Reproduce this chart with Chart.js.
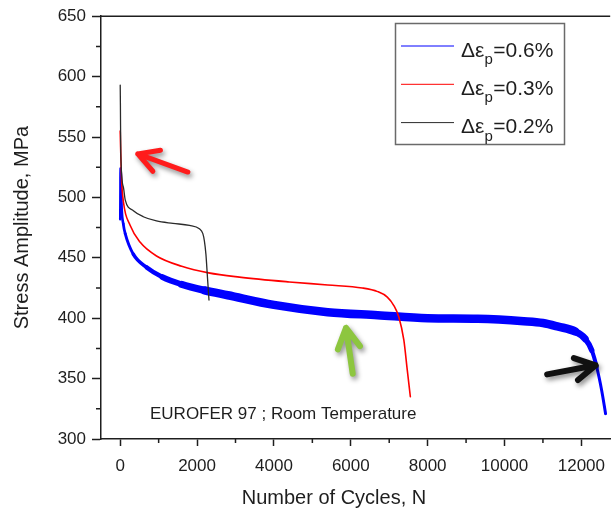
<!DOCTYPE html>
<html>
<head>
<meta charset="utf-8">
<script src="https://cdn.jsdelivr.net/npm/chart.js@4.4.1/dist/chart.umd.min.js"></script>
<style>
  html, body { margin: 0; padding: 0; background: #fff; overflow: hidden; }
  #wrap { width: 615px; height: 512px; }
</style>
</head>
<body>
<div id="wrap"><canvas id="fatigue" width="615" height="512"></canvas></div>
<script>
// Cyclic softening curves, EUROFER 97 at room temperature
const cycles06 = [0, 10, 40, 80, 130, 340, 690, 1100, 1600, 2200, 2800, 4000, 5400, 6700, 8000, 9300, 10500, 11000, 11400, 11840, 12100, 12270, 12400, 12530, 12630];
const stress06 = [482, 524, 490, 478, 470, 453, 442, 434, 428, 423, 419, 411, 405, 402.5, 400, 399.5, 397.5, 396, 393, 389, 383, 373.5, 359.5, 340, 321];

const cycles03 = [0, 30, 85, 257, 515, 944, 1600, 2300, 3100, 4400, 5400, 6300, 6700, 6950, 7120, 7250, 7380, 7470, 7550];
const stress03 = [555, 518, 496, 477, 463, 451.5, 443, 437.5, 434, 430, 427.5, 425, 422, 417.5, 410.5, 401, 382, 357, 335];

const cycles02 = [0, 5, 15, 85, 130, 343, 600, 944, 1372, 1802, 2060, 2150, 2190, 2230, 2270, 2310];
const stress02 = [593, 577, 536, 508, 498, 489, 484, 480.5, 478.5, 476.8, 474, 470, 464, 453, 434, 415];

const strainRanges = ['0.6', '0.3', '0.2'];
const seriesColors = ['#0000ff', '#ff0000', '#2a2a2a'];

const xTicks = [0, 2000, 4000, 6000, 8000, 10000, 12000];
const xMinor = [1000, 3000, 5000, 7000, 9000, 11000];
const yTicks = [300, 350, 400, 450, 500, 550, 600, 650];
const yMinor = [325, 375, 425, 475, 525, 575, 625];

// arrows: tail -> tip, in (cycles, MPa)
const arrowTails = [[1760, 521], [6050, 354], [11110, 353.5]];
const arrowTips = [[456, 536], [5876, 392], [12373, 361]];
const arrowColors = ['#ff1c1c', '#8dc63f', '#111111'];
const arrowWidths = [5, 6, 6];

const FONT = '"Liberation Sans", Arial, Helvetica, sans-serif';
const INK = '#1e1e1e';

function points(xs, ys) {
  return xs.map((x, i) => ({ x: x, y: ys[i] }));
}

// noise band of the 0.6% test widens early on, narrows through the final drop
function bandWidth(n) {
  if (n >= 12400) return 3;
  if (n >= 12270) return 4;
  if (n >= 12100) return 5.5;
  if (n >= 11840) return 7;
  return 2.5 + 6 * Math.min(1, n / 2000);
}

const frameAndMinorTicks = {
  id: 'frameAndMinorTicks',
  afterDraw(chart) {
    const { ctx, chartArea, scales } = chart;
    ctx.save();
    ctx.strokeStyle = INK;
    ctx.lineWidth = 1.5;
    ctx.beginPath();
    ctx.moveTo(chartArea.left, chartArea.top);
    ctx.lineTo(chartArea.right, chartArea.top);
    xMinor.forEach(v => {
      const px = scales.x.getPixelForValue(v);
      ctx.moveTo(px, chartArea.bottom);
      ctx.lineTo(px, chartArea.bottom + 4);
    });
    yMinor.forEach(v => {
      const py = scales.y.getPixelForValue(v);
      ctx.moveTo(chartArea.left, py);
      ctx.lineTo(chartArea.left - 5, py);
    });
    ctx.stroke();
    ctx.restore();
  }
};

const arrowMarks = {
  id: 'arrowMarks',
  afterDraw(chart) {
    const { ctx, scales } = chart;
    arrowTails.forEach((tail, i) => {
      const x0 = scales.x.getPixelForValue(tail[0]);
      const y0 = scales.y.getPixelForValue(tail[1]);
      const x1 = scales.x.getPixelForValue(arrowTips[i][0]);
      const y1 = scales.y.getPixelForValue(arrowTips[i][1]);
      const ang = Math.atan2(y0 - y1, x0 - x1);
      const wing = 23, spread = Math.PI / 6.2;
      ctx.save();
      ctx.shadowColor = 'rgba(0,0,0,0.45)';
      ctx.shadowBlur = 5;
      ctx.shadowOffsetX = 2;
      ctx.shadowOffsetY = 3;
      ctx.strokeStyle = arrowColors[i];
      ctx.lineWidth = arrowWidths[i];
      ctx.lineCap = 'round';
      ctx.lineJoin = 'round';
      ctx.beginPath();
      ctx.moveTo(x0, y0);
      ctx.lineTo(x1, y1);
      ctx.moveTo(x1 + wing * Math.cos(ang - spread), y1 + wing * Math.sin(ang - spread));
      ctx.lineTo(x1, y1);
      ctx.lineTo(x1 + wing * Math.cos(ang + spread), y1 + wing * Math.sin(ang + spread));
      ctx.stroke();
      ctx.restore();
    });
  }
};

const strainLegend = {
  id: 'strainLegend',
  afterDraw(chart) {
    const ctx = chart.ctx;
    ctx.save();
    ctx.fillStyle = '#fff';
    ctx.fillRect(395, 23, 169, 122);
    ctx.strokeStyle = '#6a6a6a';
    ctx.lineWidth = 1.5;
    ctx.strokeRect(395.5, 23.5, 169, 121);
    chart.data.datasets.forEach((ds, i) => {
      const y = 46 + i * 38.3;
      ctx.strokeStyle = ds.borderColor;
      ctx.lineWidth = 1;
      ctx.beginPath();
      ctx.moveTo(401, y);
      ctx.lineTo(454, y);
      ctx.stroke();
      ctx.fillStyle = INK;
      ctx.textBaseline = 'alphabetic';
      ctx.textAlign = 'left';
      let x = 461;
      ctx.font = '21px ' + FONT;
      ctx.fillText('\u0394\u03b5', x, y + 10.5);
      x += ctx.measureText('\u0394\u03b5').width;
      ctx.font = '15px ' + FONT;
      ctx.fillText('p', x, y + 18);
      x += ctx.measureText('p').width + 0.5;
      ctx.font = '21px ' + FONT;
      ctx.fillText('=' + strainRanges[i] + '%', x, y + 10.5);
    });
    ctx.restore();
  }
};

const plotText = {
  id: 'plotText',
  afterDraw(chart) {
    const ctx = chart.ctx;
    ctx.save();
    ctx.fillStyle = INK;
    ctx.textBaseline = 'alphabetic';
    ctx.textAlign = 'left';
    ctx.font = '17px ' + FONT;
    ctx.fillText('EUROFER 97 ; Room Temperature', 150, 419);
    ctx.textAlign = 'center';
    ctx.font = '20px ' + FONT;
    ctx.fillText('Number of Cycles, N', 334, 504);
    ctx.restore();
  }
};

const sets = [
  { data: points(cycles06, stress06), borderWidth: 8, order: 3,
    segment: { borderWidth: c => bandWidth(c.p0.parsed.x) } },
  { data: points(cycles03, stress03), borderWidth: 1.6, order: 2 },
  { data: points(cycles02, stress02), borderWidth: 1.3, order: 1 }
].map((d, i) => Object.assign({
  label: '\u0394\u03b5p=' + strainRanges[i] + '%',
  borderColor: seriesColors[i],
  pointRadius: 0,
  cubicInterpolationMode: 'monotone',
  borderCapStyle: 'round',
  borderJoinStyle: 'round',
  fill: false
}, d));

new Chart(document.getElementById('fatigue'), {
  type: 'line',
  data: { datasets: sets },
  options: {
    responsive: false,
    animation: false,
    events: [],
    layout: { padding: { top: 16, right: 0, bottom: 0, left: 0 } },
    plugins: { legend: { display: false }, tooltip: { enabled: false } },
    scales: {
      x: {
        type: 'linear',
        min: -500,
        max: 12750,
        afterBuildTicks: s => { s.ticks = xTicks.map(v => ({ value: v })); },
        afterFit: s => { s.height = 73; },
        grid: { drawOnChartArea: false, tickLength: 7, tickColor: INK, tickWidth: 1.5 },
        border: { color: INK, width: 1.5 },
        ticks: { color: INK, font: { family: FONT, size: 17 }, padding: 10, maxRotation: 0, autoSkip: false,
                 callback: v => String(v) }
      },
      y: {
        type: 'linear',
        min: 300,
        max: 650,
        afterBuildTicks: s => { s.ticks = yTicks.map(v => ({ value: v })); },
        afterFit: s => { s.width = 101; },
        grid: { drawOnChartArea: false, tickLength: 9, tickColor: INK, tickWidth: 1.5 },
        border: { color: INK, width: 1.5 },
        ticks: { color: INK, font: { family: FONT, size: 17 }, padding: 6, callback: v => String(v) },
        title: { display: true, text: 'Stress Amplitude, MPa', color: INK,
                 font: { family: FONT, size: 20 }, padding: { top: 10, bottom: 0 } }
      }
    }
  },
  plugins: [frameAndMinorTicks, arrowMarks, strainLegend, plotText]
});
</script>
</body>
</html>
